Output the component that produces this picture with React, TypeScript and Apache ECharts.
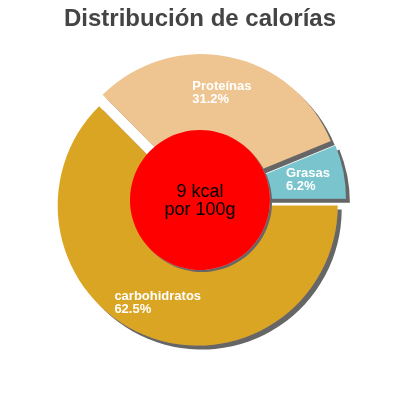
import { useEffect, useRef } from 'react'
import * as echarts from 'echarts'

const TITLE = 'Distribución de calorías'
const CENTER_TEXT = '9 kcal\npor 100g'

const categories = ['carbohidratos', 'Proteínas', 'Grasas']
const percents = [62.5, 31.2, 6.2]
const colors = ['#DAA520', '#EEC591', '#7AC5CD']

const FONT = '"Liberation Sans", Arial, sans-serif'

export default function App() {
  const elRef = useRef<HTMLDivElement | null>(null)

  useEffect(() => {
    if (!elRef.current) return
    const chart = echarts.init(elRef.current, undefined, { renderer: 'svg' })

    const slices = categories.map((name, i) => ({
      name,
      value: percents[i],
      selected: true,
      itemStyle: { color: colors[i] },
    }))

    const common = {
      type: 'pie' as const,
      center: [200, 200],
      startAngle: 0,
      clockwise: true,
      selectedMode: 'multiple' as const,
      selectedOffset: 6,
      avoidLabelOverlap: false,
      silent: true,
      emphasis: { disabled: true },
      labelLine: { show: false },
    }

    chart.setOption({
      animation: false,
      title: {
        text: TITLE,
        left: 'center',
        top: 0,
        textStyle: { color: '#444', fontSize: 24, fontWeight: 'bold', fontFamily: FONT },
      },
      series: [
        {
          ...common,
          radius: [0, 140],
          data: slices,
          itemStyle: {
            borderWidth: 0,
            shadowColor: '#666',
            shadowBlur: 0,
            shadowOffsetX: 4,
            shadowOffsetY: 4,
          },
          select: { itemStyle: { borderWidth: 0 } },
          label: { show: false },
        },
        {
          // transparent copy that only places the labels further out
          ...common,
          radius: [62, 140],
          data: slices.map((s) => ({ ...s, itemStyle: { color: 'rgba(0,0,0,0)' } })),
          itemStyle: { borderWidth: 0 },
          select: { itemStyle: { borderWidth: 0 } },
          label: {
            show: true,
            position: 'inside',
            formatter: (p: any) => `{t|${p.name}}\n{t|${p.value}%}`,
            rich: {
              t: {
                align: 'left',
                color: '#fff',
                fontSize: 13,
                fontWeight: 'bold',
                lineHeight: 13,
                fontFamily: FONT,
              },
            },
          },
        },
        {
          type: 'pie',
          center: [200, 200],
          radius: [0, 70],
          silent: true,
          emphasis: { disabled: true },
          labelLine: { show: false },
          data: [{ name: CENTER_TEXT, value: 1 }],
          itemStyle: {
            color: '#FF0000',
            borderWidth: 0,
            shadowColor: '#666',
            shadowBlur: 0,
            shadowOffsetX: 2,
            shadowOffsetY: 2,
          },
          label: {
            show: true,
            position: 'center',
            formatter: '{b}',
            color: '#000',
            fontSize: 18,
            lineHeight: 18,
            fontFamily: FONT,
          },
        },
      ],
    })

    return () => {
      chart.dispose()
    }
  }, [])

  return <div ref={elRef} style={{ position: 'fixed', left: 0, top: 0, width: 400, height: 400 }} />
}
